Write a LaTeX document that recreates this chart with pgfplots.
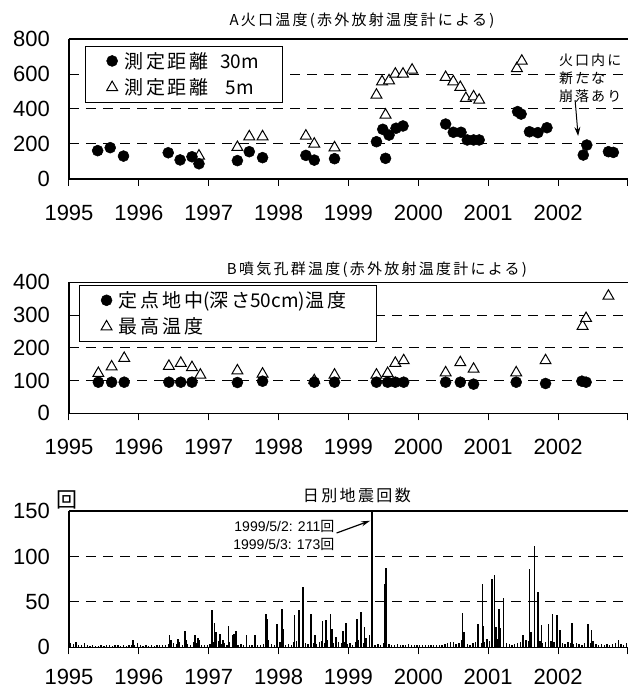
\documentclass[border=0pt]{standalone}
\usepackage{fontspec}
\setmainfont{Liberation Sans}
\newfontfamily\jp[LetterSpace=15]{Noto Sans CJK JP}
\newfontfamily\jpn{Noto Sans CJK JP}
\usepackage{pgfplots}
\pgfplotsset{compat=1.18}
\usetikzlibrary{arrows.meta}
\pgfplotsset{
  base/.style={
    scale only axis, width=559pt, xmin=1995, xmax=2003,
    axis x line*=box, axis y line*=left,
    xtick pos=left, ytick pos=left,
    xtick={1995,...,2003},
    xticklabels={1995,1996,1997,1998,1999,2000,2001,2002,{}},
    minor x tick num=5,
    tick align=outside, major tick length=7pt, minor tick length=5pt,
    every tick/.style={black, line width=1pt},
    ytick style={draw=none},
    ymajorgrids,
    major grid style={dash pattern=on 10pt off 7pt, line width=1pt, black},
    axis line style={line width=1.3pt, black},
    tick label style={font=\fontsize{22}{22}\selectfont},
    /pgf/number format/assume math mode=true,
    yticklabel style={inner sep=0pt, xshift=-12pt},
    xticklabel style={inner sep=0pt, text depth=0pt, yshift=-18.5pt},
    clip mode=individual,
    legend cell align=left,
    legend image code/.code={\path[draw=none,fill=none] (0pt,-4pt) rectangle (37pt,4pt); \draw[##1] plot coordinates {(27pt,0pt)};},
    legend style={anchor=north west, draw=black, line width=1pt, fill=white,
      font=\jpn\fontsize{19}{19}\selectfont, inner xsep=0pt, inner ysep=4pt, row sep=5pt},
  },
  circ/.style={only marks, mark=*, mark size=5.5pt, mark options={fill=black, draw=black, line width=0.5pt}},
  tri/.style={only marks, mark=triangle*, mark size=6.3pt, mark options={fill=white, draw=black, line width=1pt}},
}
\begin{document}
\begin{tikzpicture}[x=1pt,y=1pt]
\useasboundingbox (0,0) rectangle (628,691);
% ---------------- Panel A
\begin{axis}[base, at={(69pt,512pt)}, anchor=south west, height=140pt,
  ymin=0, ymax=800, ytick={0,200,400,600,800},
  legend style={at={(0.028,0.952)}}]
\addplot[tri, forget plot] coordinates {
(1996.86,132)(1997.41,181)(1997.58,242)(1997.77,242)(1998.39,246)(1998.51,200)
(1998.80,179)(1999.40,480)(1999.48,556)(1999.53,366)(1999.58,562)(1999.67,600)
(1999.78,600)(1999.91,623)(2000.39,581)(2000.50,556)(2000.60,524)(2000.68,461)
(2000.79,470)(2000.87,451)(2001.41,632)(2001.48,674)};
\addplot[circ] coordinates {
(1995.41,162)(1995.59,179)(1995.78,131)(1996.42,150)(1996.59,109)(1996.76,127)
(1996.86,87)(1997.41,105)(1997.58,156)(1997.77,122)(1998.39,135)(1998.51,108)
(1998.80,116)(1999.40,213)(1999.49,284)(1999.53,118)(1999.58,251)(1999.68,290)
(1999.78,303)(2000.39,314)(2000.50,267)(2000.61,267)(2000.70,223)(2000.79,223)
(2000.87,223)(2001.42,385)(2001.47,371)(2001.59,270)(2001.71,265)(2001.84,293)
(2002.36,137)(2002.41,194)(2002.72,156)(2002.79,152)};
\addlegendimage{tri}
\legend{{\jp 測定距離}\makebox[50pt][r]{30m}\hspace*{22pt}, {\jp 測定距離}\makebox[50pt][r]{5m\hspace*{5pt}}\hspace*{22pt}}
\node[font=\jp\fontsize{15}{15}\selectfont] at (rel axis cs:0.524,1) [yshift=18pt] {A火口温度(赤外放射温度計による)};
\node[anchor=north west, align=left, font=\jp\fontsize{14}{18}\selectfont, inner sep=0pt] at (axis cs:2002.01,715) {火口内に\\新たな\\崩落あり};
\draw[-{Stealth[length=9pt,width=6pt]}, line width=1pt] (axis cs:2002.243,451) -- (axis cs:2002.286,246);
\end{axis}
% ---------------- Panel B
\begin{axis}[base, at={(69pt,277.7pt)}, anchor=south west, height=131pt,
  ymin=0, ymax=400, ytick={0,100,200,300,400},
  legend style={at={(0.018,0.979)}}]
\addplot[tri, forget plot] coordinates {
(1995.42,122)(1995.61,142)(1995.79,168)(1996.43,144)(1996.60,153)(1996.76,140)
(1996.88,117)(1997.41,130)(1997.77,120)(1998.51,100)(1998.80,117)(1999.40,117)
(1999.56,122)(1999.67,153)(1999.79,161)(2000.39,124)(2000.60,155)(2000.79,135)
(2001.40,124)(2001.82,161)(2002.35,266)(2002.40,290)(2002.72,358)};
\addplot[circ] coordinates {
(1995.42,95)(1995.61,95)(1995.79,95)(1996.43,95)(1996.60,95)(1996.76,95)
(1997.41,94)(1997.77,98)(1998.51,95)(1998.80,95)(1999.40,95)(1999.56,95)
(1999.67,95)(1999.79,95)(2000.39,95)(2000.60,95)(2000.79,89)(2001.40,95)
(2001.82,91)(2002.34,98)(2002.40,95)};
\addlegendimage{tri}
\legend{{\jp 定点地中}({\jp 深さ}50cm){\jp 温度}\hspace*{28pt}, {\jp 最高温度}}
\node[font=\jp\fontsize{15}{15}\selectfont] at (rel axis cs:0.551,1) [yshift=13pt] {B噴気孔群温度(赤外放射温度計による)};
\end{axis}
% ---------------- Panel C
\begin{axis}[base, at={(69pt,43.7pt)}, anchor=south west, height=136.3pt,
  ymin=0, ymax=150, ytick={0,50,100,150},
  xticklabel style={yshift=4pt}]
\addplot[ycomb, black, line width=1.3pt, no marks] coordinates {
(1995.02,5)(1995.06,4)(1995.10,6)(1995.14,3)(1995.18,2)(1995.22,5)(1995.26,2)(1995.30,1)
(1995.34,2)(1995.38,1)(1995.42,1)(1995.46,2)(1995.50,1)(1995.54,2)(1995.58,3)(1995.62,1)
(1995.66,2)(1995.70,2)(1995.74,1)(1995.78,2)(1995.82,1)(1995.86,3)(1995.90,2)(1995.94,3)
(1995.98,2)(1996.02,2)(1996.06,1)(1996.10,2)(1996.14,1)(1996.18,3)(1996.22,1)(1996.26,2)
(1996.30,2)(1996.34,3)(1996.38,2)(1996.42,4)(1996.46,3)(1996.50,5)(1996.54,4)(1996.58,6)
(1996.62,3)(1996.66,5)(1996.70,4)(1996.74,3)(1996.78,6)(1996.82,5)(1996.86,4)(1996.90,3)
(1996.94,2)(1996.98,3)(1997.02,4)(1997.06,6)(1997.10,5)(1997.14,7)(1997.18,4)(1997.22,5)
(1997.26,3)(1997.30,6)(1997.34,5)(1997.38,4)(1997.42,3)(1997.46,4)(1997.50,3)(1997.54,5)
(1997.58,3)(1997.62,2)(1997.66,4)(1997.70,3)(1997.74,2)(1997.78,4)(1997.82,6)(1997.86,8)
(1997.90,4)(1997.94,3)(1997.98,5)(1998.02,6)(1998.06,4)(1998.10,3)(1998.14,4)(1998.18,3)
(1998.22,6)(1998.26,7)(1998.30,5)(1998.34,8)(1998.38,5)(1998.42,4)(1998.46,6)(1998.50,5)
(1998.54,4)(1998.58,6)(1998.62,7)(1998.66,5)(1998.70,8)(1998.74,9)(1998.78,5)(1998.82,4)
(1998.86,6)(1998.90,5)(1998.94,6)(1998.98,4)(1999.02,5)(1999.06,3)(1999.10,6)(1999.14,8)
(1999.18,7)(1999.22,5)(1999.26,6)(1999.30,4)(1999.38,3)(1999.42,4)(1999.46,3)(1999.50,5)
(1999.58,4)(1999.62,3)(1999.66,2)(1999.70,4)(1999.74,3)(1999.78,2)(1999.82,3)(1999.86,4)
(1999.90,2)(1999.94,3)(1999.98,2)(2000.02,3)(2000.06,2)(2000.10,3)(2000.14,2)(2000.18,2)
(2000.22,3)(2000.26,2)(2000.30,2)(2000.34,3)(2000.38,4)(2000.42,5)(2000.46,3)(2000.50,6)
(2000.54,4)(2000.58,5)(2000.62,8)(2000.66,6)(2000.70,4)(2000.74,3)(2000.78,5)(2000.82,6)
(2000.86,8)(2000.90,5)(2000.94,6)(2000.98,9)(2001.02,7)(2001.06,10)(2001.10,8)(2001.14,9)
(2001.18,7)(2001.22,6)(2001.26,5)(2001.30,4)(2001.34,3)(2001.38,4)(2001.42,5)(2001.46,6)
(2001.50,5)(2001.54,8)(2001.58,7)(2001.62,9)(2001.66,8)(2001.70,6)(2001.74,7)(2001.78,5)
(2001.82,6)(2001.86,5)(2001.90,7)(2001.94,6)(2001.98,5)(2002.02,7)(2002.06,5)(2002.10,4)
(2002.14,6)(2002.18,5)(2002.22,4)(2002.26,5)(2002.30,4)(2002.34,3)(2002.38,5)(2002.42,6)
(2002.46,5)(2002.50,7)(2002.54,4)(2002.58,3)(2002.62,4)(2002.66,3)(2002.70,4)(2002.74,3)
(2002.78,4)(2002.82,5)(2002.86,8)(2002.90,4)(2002.94,3)(2002.98,5)
};
\addplot[ycomb, black, line width=1.6pt, no marks] coordinates {
(1995.92,8)(1995.98,5)(1996.44,13)(1996.46,8)(1996.56,9)(1996.66,18)(1996.68,8)(1996.80,14)
(1996.85,10)(1996.87,8)(1997.05,41)(1997.08,27)(1997.10,17)(1997.16,15)(1997.20,8)(1997.28,23)
(1997.34,13)(1997.36,15)(1997.39,18)(1997.54,14)(1997.66,13)(1997.82,37)(1997.84,31)(1997.98,26)
(1998.05,42)(1998.07,20)(1998.23,35)(1998.29,41)(1998.35,66)(1998.46,37)(1998.52,14)(1998.63,29)
(1998.68,30)(1998.74,37)(1998.76,20)(1998.82,11)(1998.92,18)(1998.96,27)(1999.12,31)(1999.18,39)
(1999.23,22)(1999.25,10)(1999.30,13)(1999.333,211)(1999.336,173)(1999.52,70)(1999.54,87)(2000.46,6)
(2000.63,38)(2000.65,17)(2000.85,26)(2000.92,70)(2000.93,23)(2001.05,75)(2001.09,80)(2001.11,22)
(2001.15,42)(2001.17,21)(2001.22,54)(2001.50,14)(2001.59,86)(2001.61,17)(2001.66,111)(2001.71,61)
(2001.76,24)(2001.86,26)(2001.92,37)(2001.98,36)(2002.03,19)(2002.20,27)(2002.43,26)(2002.48,19)
};
\node[font=\jpn\fontsize{21}{21}\selectfont, inner sep=0pt] at (rel axis cs:0,1) [xshift=-1.5pt, yshift=11pt] {回};
\node[font=\jp\fontsize{16}{16}\selectfont] at (rel axis cs:0.515,1) [yshift=16pt] {日別地震回数};
\node[anchor=east, align=right, font=\fontsize{14}{18}\selectfont, inner sep=0pt] at (axis cs:1998.8,123.6) {1999/5/2: 211{\jpn 回}\\1999/5/3: 173{\jpn 回}};
\draw[-{Stealth[length=9pt,width=5pt]}, line width=1.2pt] (axis cs:1998.83,125.8) -- (axis cs:1999.31,139.3);
\end{axis}
\end{tikzpicture}
\end{document}
